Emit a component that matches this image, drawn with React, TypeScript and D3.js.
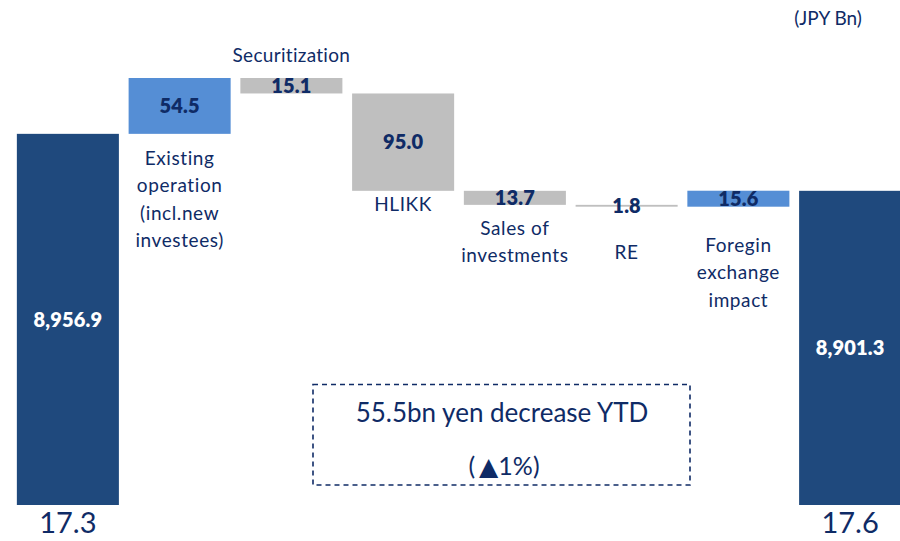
import React from 'react';
import * as d3 from 'd3';

// Waterfall data (JPY Bn)
const categories = ['17.3', 'Existing', 'Securitization', 'HLIKK', 'Sales', 'RE', 'FX', '17.6'];
const changes = [8956.9, 54.5, -15.1, -95.0, -13.7, -1.8, 15.6, 8901.3];
const kinds = ['total', 'up', 'down', 'down', 'down', 'down', 'up', 'total'];
const valueLabels = ['8,956.9', '54.5', '15.1', '95.0', '13.7', '1.8', '15.6', '8,901.3'];
const categoryLines = [
  ['17.3'],
  ['Existing', 'operation', '(incl.new', 'investees)'],
  ['Securitization'],
  ['HLIKK'],
  ['Sales of', 'investments'],
  ['RE'],
  ['Foregin', 'exchange', 'impact'],
  ['17.6'],
];

const W = 900;
const H = 541;
const FONT = 'Lato, "Noto Sans", sans-serif';
const NAVY = '#0f2b66';
const colors: Record<string, string> = { total: '#1f497d', up: '#558ed5', down: '#bfbfbf' };

// label offset from bar edge (manual placement like the slide)
const labelOffset = [0, 24, -23, 13, 23, 45, 38, 0];

const App: React.FC = () => {
  // running totals
  let run = 0;
  const bars = changes.map((v, i) => {
    let lo: number, hi: number;
    if (kinds[i] === 'total') {
      lo = NaN;
      hi = v;
      run = v;
    } else {
      const next = run + v;
      lo = Math.min(run, next);
      hi = Math.max(run, next);
      run = next;
    }
    return { key: categories[i], lo, hi, kind: kinds[i], i };
  });

  const x = d3
    .scaleBand()
    .domain(categories)
    .range([12, 906])
    .paddingInner(0.087)
    .paddingOuter(0.0435);

  const y = d3.scaleLinear().domain([8594.7, 9011.4]).range([505, 78]);
  const bottom = y(8594.7);

  return (
    <svg width={W} height={H} style={{ position: 'absolute', left: 0, top: 0, background: '#fff' }}>
      <text x={828} y={18} dy="0.36em" textAnchor="middle" fontFamily={FONT} fontSize={19} fill={NAVY}>
        (JPY Bn)
      </text>

      {bars.map((b) => {
        const bx = x(b.key)!;
        const bw = x.bandwidth();
        const top = y(b.hi);
        const bot = b.kind === 'total' ? bottom : y(b.lo);
        const h = Math.max(bot - top, 1.8);
        const cx = bx + bw / 2;
        const lines = categoryLines[b.i];
        return (
          <g key={b.key}>
            <rect x={bx} y={top} width={bw} height={h} fill={colors[b.kind]} />
            <text
              x={cx}
              y={top + h / 2}
              dy="0.36em"
              textAnchor="middle"
              fontFamily={FONT}
              fontWeight={800}
              fontSize={20}
              letterSpacing={0.2}
              fill={b.kind === 'total' ? '#fff' : NAVY}
            >
              {valueLabels[b.i]}
            </text>
            {b.kind === 'total' ? (
              <text x={cx} y={523} dy="0.36em" textAnchor="middle" fontFamily={FONT} fontSize={29} fill={NAVY}>
                {lines[0]}
              </text>
            ) : labelOffset[b.i] < 0 ? (
              <text x={cx} y={top + labelOffset[b.i]} dy="0.36em" textAnchor="middle" fontFamily={FONT} fontSize={19} letterSpacing={0.3} fill={NAVY}>
                {lines[0]}
              </text>
            ) : (
              lines.map((l, j) => (
                <text
                  key={j}
                  x={cx}
                  y={bot + labelOffset[b.i] + j * 27.6}
                  dy="0.36em"
                  textAnchor="middle"
                  fontFamily={FONT}
                  fontSize={19}
                  letterSpacing={0.6}
                  fill={NAVY}
                >
                  {l}
                </text>
              ))
            )}
          </g>
        );
      })}

      <rect x={313} y={384.5} width={377} height={100.5} fill="none" stroke={NAVY} strokeWidth={1.6} strokeDasharray="5,4" />
      <text x={502} y={413} dy="0.36em" textAnchor="middle" fontFamily={FONT} fontSize={26} fill={NAVY}>
        55.5bn yen decrease YTD
      </text>
      <text x={504} y={466} dy="0.36em" textAnchor="middle" fontFamily={FONT} fontSize={25} fill={NAVY}>
        (<tspan fontFamily='"DejaVu Sans", sans-serif' fontSize={25} dx={4}>▲</tspan>1%)
      </text>
    </svg>
  );
};

export default App;
